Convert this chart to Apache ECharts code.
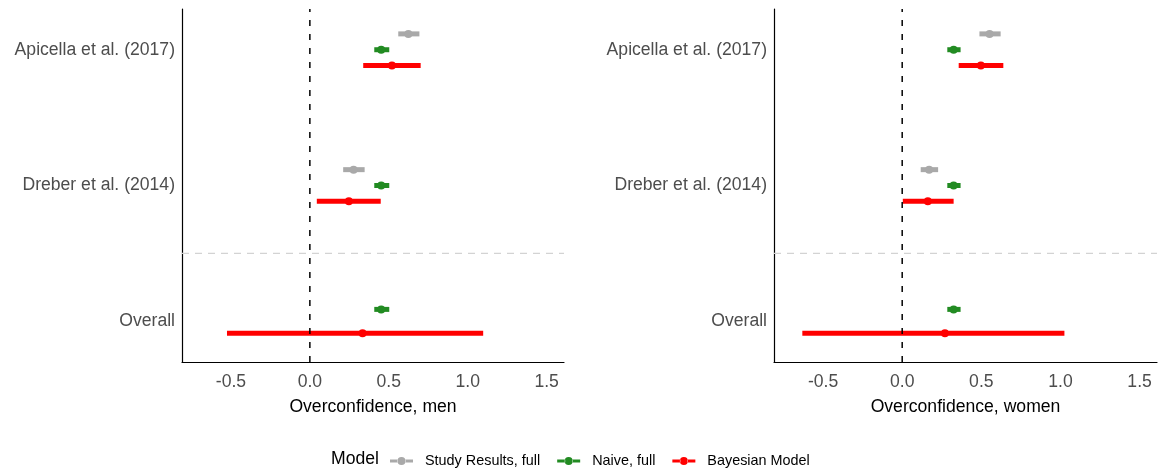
<!DOCTYPE html>
<html>
<head>
<meta charset="utf-8">
<script src="https://cdn.jsdelivr.net/npm/echarts@6/dist/echarts.min.js"></script>
<style>html,body{margin:0;padding:0;background:#fff}#c{width:1163px;height:475px}</style>
</head>
<body>
<div id="c"></div>
<script>
// Categories on the y axis (bottom to top) and x tick labels
const categories = ['Overall', 'Dreber et al. (2014)', 'Apicella et al. (2017)'];
const xTicks = [-0.5, 0.0, 0.5, 1.0, 1.5];
const models = ['Study Results, full', 'Naive, full', 'Bayesian Model'];
const modelColors = ['#A9A9A9', '#228B22', '#FF0000'];

// Each entry: [low, estimate, high] per category (null = no estimate)
// Men
const menStudy = [null, [0.211, 0.277, 0.347], [0.560, 0.624, 0.694]];
const menNaive = [[0.408, 0.452, 0.503], [0.408, 0.452, 0.503], [0.408, 0.452, 0.503]];
const menBayes = [[-0.525, 0.334, 1.098], [0.044, 0.247, 0.449], [0.338, 0.520, 0.702]];
// Women
const womenStudy = [null, [0.117, 0.170, 0.227], [0.488, 0.552, 0.622]];
const womenNaive = [[0.285, 0.325, 0.369], [0.285, 0.325, 0.369], [0.285, 0.325, 0.369]];
const womenBayes = [[-0.631, 0.270, 1.025], [0.004, 0.162, 0.325], [0.357, 0.497, 0.639]];

const panels = [
  { name: 'Overconfidence, men', sets: [menStudy, menNaive, menBayes] },
  { name: 'Overconfidence, women', sets: [womenStudy, womenNaive, womenBayes] }
];

const DODGE = 0.35;
const Y_MIN = 0.7, Y_MAX = 3.3;

function buildData(sets, m) {
  // ggplot-like dodge: items present in each category share width DODGE
  const out = [];
  categories.forEach((c, ci) => {
    const present = [];
    sets.forEach((s, si) => { if (s[ci]) present.push(si); });
    const n = present.length;
    const k = present.indexOf(m);
    if (k < 0) return;
    const off = ((n - 1) / 2 - k) * (DODGE / n);
    const v = sets[m][ci];
    out.push([v[0], v[1], v[2], ci + 1 + off]);
  });
  return out;
}

function renderItem(params, api) {
  const lo = api.coord([api.value(0), api.value(3)]);
  const hi = api.coord([api.value(2), api.value(3)]);
  const mid = api.coord([api.value(1), api.value(3)]);
  const color = api.visual('color');
  return {
    type: 'group',
    children: [
      { type: 'line', shape: { x1: lo[0], y1: lo[1], x2: hi[0], y2: hi[1] },
        style: { stroke: color, lineWidth: 5, lineCap: 'butt' } },
      { type: 'circle', shape: { cx: mid[0], cy: mid[1], r: 4 },
        style: { fill: color } }
    ]
  };
}

const legendIcon = 'path://M0,2.5H8V5.5H0Z M15,2.5H23V5.5H15Z M7.5,4A4,4 0 1,0 15.5,4A4,4 0 1,0 7.5,4Z';

const grids = [
  { left: 182, right: 599, top: 9, bottom: 113 },
  { left: 774, right: 6, top: 9, bottom: 113 }
];

const xAxes = panels.map((p, i) => ({
  type: 'value', gridIndex: i, min: -0.81, max: 1.61,
  name: p.name, nameLocation: 'middle', nameGap: 36,
  nameTextStyle: { color: '#000', fontSize: 17.6, fontFamily: 'Liberation Sans' },
  axisLine: { show: true, onZero: false, lineStyle: { color: '#000', width: 1.2 } },
  axisTick: { show: false },
  splitLine: { show: false },
  axisLabel: { customValues: xTicks, color: '#4D4D4D', fontSize: 17.6, fontFamily: 'Liberation Sans', margin: 11,
    formatter: v => v.toFixed(1) }
}));

const yAxes = panels.map((p, i) => ({
  type: 'value', gridIndex: i, min: Y_MIN, max: Y_MAX,
  axisLine: { show: true, onZero: false, lineStyle: { color: '#000', width: 1.2 } },
  axisTick: { show: false },
  splitLine: { show: false },
  axisLabel: { customValues: [1, 2, 3], color: '#4D4D4D', fontSize: 17.6, fontFamily: 'Liberation Sans', margin: 7,
    formatter: v => categories[Math.round(v) - 1] }
}));

const series = [];
panels.forEach((p, pi) => {
  // separator between studies and overall
  series.push({
    type: 'line', xAxisIndex: pi, yAxisIndex: pi, data: [[-0.81, 1.5], [1.61, 1.5]], z: 1, silent: true,
    symbol: 'none', lineStyle: { color: '#D3D3D3', type: [7, 6], width: 1.3 }
  });
  models.forEach((m, mi) => {
    series.push({
      name: m, type: 'custom', xAxisIndex: pi, yAxisIndex: pi,
      renderItem: renderItem, itemStyle: { color: modelColors[mi] },
      encode: { x: [0, 1, 2], y: 3 },
      data: buildData(p.sets, mi), z: 2
    });
  });
  // zero reference line
  series.push({
    type: 'line', xAxisIndex: pi, yAxisIndex: pi, data: [[0, Y_MIN], [0, Y_MAX]], z: 5, silent: true,
    symbol: 'none', lineStyle: { color: '#000', type: [6, 8], width: 1.5 }
  });
});

const chart = echarts.init(document.getElementById('c'), null, { renderer: 'canvas' });
chart.setOption({
  animation: false,
  backgroundColor: '#fff',
  color: modelColors,
  title: { text: 'Model', left: 331, top: 450,
    textStyle: { color: '#000', fontSize: 17.6, fontWeight: 'normal', fontFamily: 'Liberation Sans' }, padding: 0 },
  legend: {
    data: models.map((m, i) => ({ name: m, icon: legendIcon, itemStyle: { color: modelColors[i] } })),
    left: 390, top: 454, itemWidth: 23, itemHeight: 8, itemGap: 17, padding: 0,
    textStyle: { color: '#000', fontSize: 14.4, fontFamily: 'Liberation Sans', padding: [0, 0, 0, 7] }
  },
  grid: grids,
  xAxis: xAxes,
  yAxis: yAxes,
  series: series
});
</script>
</body>
</html>
